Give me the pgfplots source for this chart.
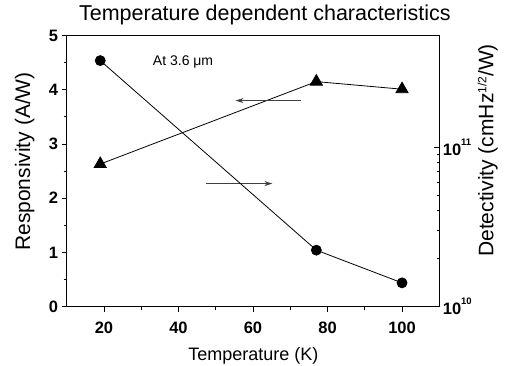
\documentclass[border=0pt]{standalone}
\usepackage{fontspec}
\setmainfont{Liberation Sans}
\usepackage{pgfplots}
\pgfplotsset{compat=1.18}
\usetikzlibrary{arrows.meta}
\begin{document}
\begin{tikzpicture}
\pgfplotsset{
  every axis/.append style={
    scale only axis, width=372.6pt, height=271.2pt,
    xmin=10, xmax=110,
    axis line style={line width=0.9pt},
    tick style={line width=0.8pt, black},
    /pgf/number format/assume math mode=true,
    clip=false,
  },
}
\begin{axis}[
  at={(66.7pt,59.3pt)}, anchor=south west,
  ymin=0, ymax=5, ytick={0,1,2,3,4,5}, minor y tick num=1,
  xtick={20,40,60,80,100}, minor x tick num=1,
  xtick pos=left, ytick pos=left, tick align=outside,
  major tick length=5pt, minor tick length=3pt,
  tick label style={font=\fontsize{16.5}{16.5}\selectfont\bfseries},
  xticklabel shift=7pt,
  xlabel={Temperature (K)},
  xlabel style={font=\fontsize{18}{18}\selectfont, at={(axis description cs:0.5008,-0.198)}, anchor=base, yshift=0pt},
  ylabel={Responsivity (A/W)},
  ylabel style={font=\fontsize{21}{21}\selectfont, at={(axis description cs:-0.0985,0.5354)}, rotate=0, anchor=base},
  title={Temperature dependent characteristics},
  every axis title shift=0pt,
  title style={font=\fontsize{21.5}{21.5}\selectfont, at={(axis description cs:0.532,1.0546)}, anchor=base, yshift=0pt},
]
\addplot[black, line width=0.8pt, mark=triangle*, mark size=7pt, mark options={solid, fill=black}]
  coordinates {(19,2.63) (77,4.15) (100,4.01)};
\node[anchor=base west, inner sep=0, font=\fontsize{14}{14}\selectfont] at (axis cs:33.1,4.456) {At 3.6 μm};
\draw[black!75, line width=1pt, -{Stealth[length=8pt,width=5pt]}] (axis cs:72.8,3.80) -- (axis cs:55.3,3.80);
\draw[black!75, line width=1pt, -{Stealth[length=8pt,width=5pt]}] (axis cs:47.5,2.27) -- (axis cs:65.2,2.27);
\end{axis}
\begin{axis}[
  at={(66.7pt,59.3pt)}, anchor=south west,
  ymode=log, ymin=1e10, ymax=5e11,
  axis x line=none, axis y line*=right,
  ytick={1e10,1e11},
  tick label style={font=\fontsize{16.5}{16.5}\selectfont\bfseries},
  yticklabels={{10\raisebox{10pt}{\fontsize{9.5}{9.5}\selectfont\bfseries 10}},{10\raisebox{10pt}{\fontsize{9.5}{9.5}\selectfont\bfseries 11}}},
  tick align=inside, major tick length=5pt, minor tick length=2.5pt,
  ylabel={Detectivity (cmHz\raisebox{7pt}{\fontsize{12}{12}\selectfont 1/2}/W)},
  ylabel style={font=\fontsize{21}{21}\selectfont, at={(axis description cs:1.1449,0.576)}, rotate=0, anchor=base},
]
\addplot[black, line width=0.8pt, mark=*, mark size=5pt, mark options={solid, fill=black}]
  coordinates {(19,3.48e11) (77,2.26e10) (100,1.41e10)};
\end{axis}
\pgfresetboundingbox
\useasboundingbox (0,0) rectangle (506pt,366pt);
\end{tikzpicture}
\end{document}
